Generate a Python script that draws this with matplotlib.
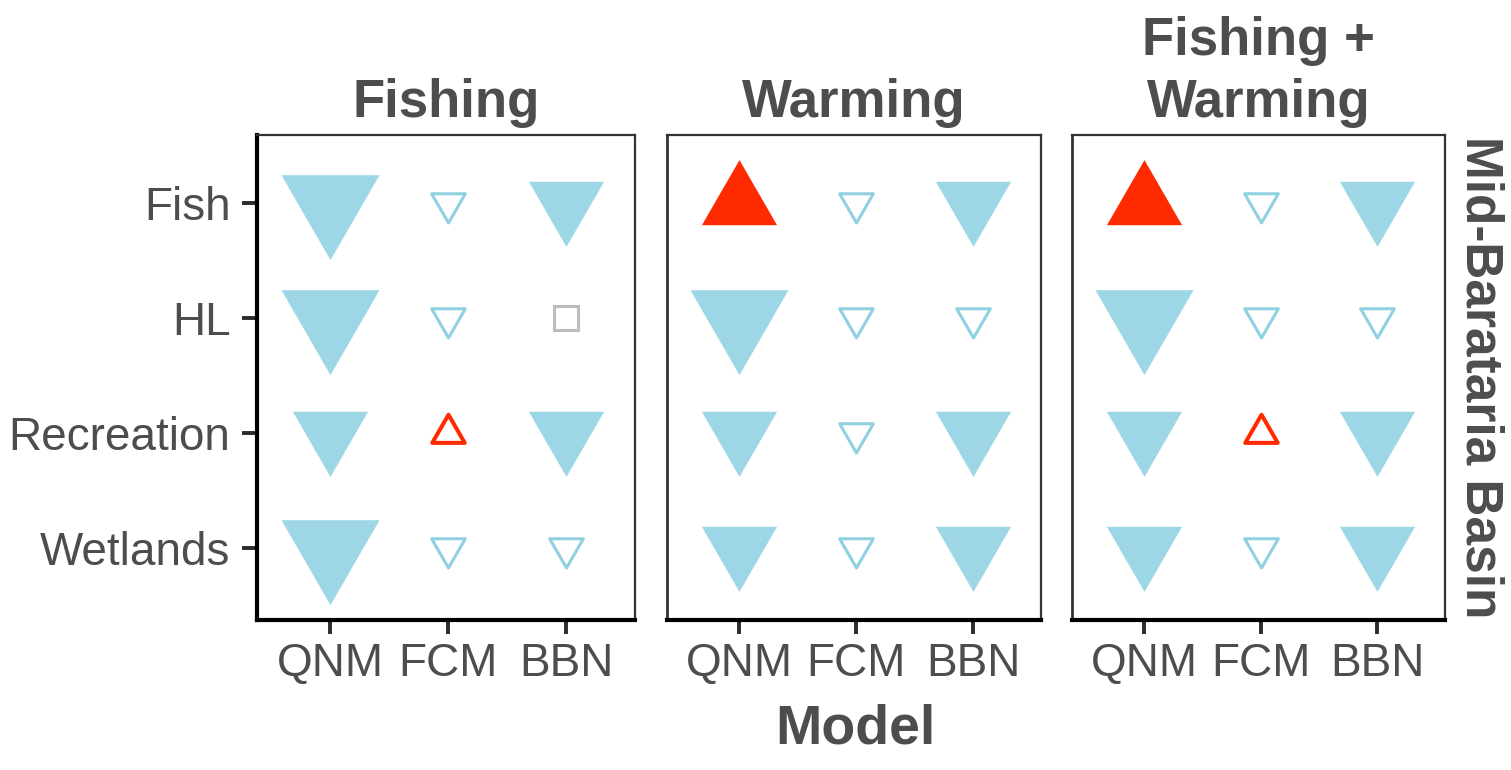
import numpy as np
import matplotlib
matplotlib.use("Agg")
import matplotlib.pyplot as plt
from matplotlib.path import Path
from matplotlib.markers import MarkerStyle

plt.rcParams['font.family'] = ['Liberation Sans', 'DejaVu Sans']

# data: rows = outcomes, cols = models, one grid per scenario
# sign = direction of change (+ up / - down), |value| = strength
# 3 = large filled, 2 = medium filled, 1 = small open, 0 = no change
outcomes = ['Fish', 'HL', 'Recreation', 'Wetlands']
models = ['QNM', 'FCM', 'BBN']
scenarios = ['Fishing', 'Warming', 'Fishing +\nWarming']
site = 'Mid-Barataria Basin'

fishing = [[-3, -1, -2],
           [-3, -1, 0],
           [-2, 1, -2],
           [-3, -1, -1]]
warming = [[2, -1, -2],
           [-3, -1, -1],
           [-2, -1, -2],
           [-2, -1, -2]]
both = [[2, -1, -2],
        [-3, -1, -1],
        [-2, 1, -2],
        [-2, -1, -2]]
grids = [fishing, warming, both]

# styling
blue = '#9DD7E6'
blue_edge = '#8FD1E1'
red = '#FF2A00'
grey_sq = '#BDBDBD'
txt = '#4D4D4D'
ms_by_level = {3: 81.5, 2: 62.5, 1: 28}

# triangles with centroid at the data point
h = np.sqrt(3) / 2
codes = [Path.MOVETO, Path.LINETO, Path.LINETO, Path.CLOSEPOLY]
down_path = Path([(-0.5, h / 3), (0.5, h / 3), (0, -2 * h / 3), (-0.5, h / 3)], codes)
up_path = Path([(-0.5, -h / 3), (0.5, -h / 3), (0, 2 * h / 3), (-0.5, -h / 3)], codes)
down_m = MarkerStyle(down_path, joinstyle='miter')
up_m = MarkerStyle(up_path, joinstyle='miter')

W, H = 1511, 770
fig = plt.figure(figsize=(W / 100, H / 100), dpi=100)

lefts = [257, 667, 1072]
widths = [378, 374, 373]
top, bottom = 135, 620

for k, (grid, title) in enumerate(zip(grids, scenarios)):
    ax = fig.add_axes([lefts[k] / W, 1 - bottom / H, widths[k] / W, (bottom - top) / H])
    vals = np.array(grid)
    for i in range(len(outcomes)):
        for j in range(len(models)):
            v = vals[i, j]
            lvl = abs(v)
            if v == 0:
                ax.plot(j, i, marker='s', ms=17, mfc='none', mec=grey_sq, mew=2.2)
                continue
            col = red if v > 0 else blue
            m = up_m if v > 0 else down_m
            if lvl >= 2:
                ax.plot(j, i, marker=m, ms=ms_by_level[lvl], mfc=col, mec=col, mew=0)
            else:
                ec = red if v > 0 else blue_edge
                lw = 2.9 if v > 0 else 2.2
                ax.plot(j, i, marker=m, ms=ms_by_level[1] - (1 if v > 0 else 0),
                        mfc='white', mec=ec, mew=lw)

    ax.set_xlim(-0.62, 2.58)
    ax.set_ylim(3.63, -0.59)
    ax.set_xticks(range(len(models)))
    ax.set_xticklabels(models)
    ax.set_yticks(range(len(outcomes)))
    if k == 0:
        ax.set_yticklabels(outcomes)
        ax.tick_params(axis='y', length=11, width=2.8, color='#2b2b2b', pad=8,
                       labelsize=33, labelcolor=txt)
    else:
        ax.tick_params(axis='y', left=False, labelleft=False)
    ax.tick_params(axis='x', length=10, width=2.8, color='#2b2b2b', pad=6,
                   labelsize=33, labelcolor=txt)

    for s in ['top', 'right']:
        ax.spines[s].set_linewidth(1.6)
        ax.spines[s].set_color('#333333')
    ax.spines['bottom'].set_linewidth(3)
    ax.spines['bottom'].set_color('black')
    ax.spines['left'].set_linewidth(3 if k == 0 else 2.0)
    ax.spines['left'].set_color('black' if k == 0 else '#333333')

    ax.text(0.5, 1.0 + 7 / (bottom - top), title, transform=ax.transAxes,
            ha='center', va='bottom', fontsize=38, fontweight='bold',
            color=txt, linespacing=1.3)

    if k == 2:
        ax.text(1.0 + 35 / widths[k], 0.5, site, transform=ax.transAxes,
                ha='center', va='center', rotation=-90, fontsize=37,
                fontweight='bold', color=txt)

fig.text(855 / W, 1 - 744 / H, 'Model', ha='center', va='baseline',
         fontsize=40, fontweight='bold', color=txt)

fig.savefig('out.png', dpi=100)
